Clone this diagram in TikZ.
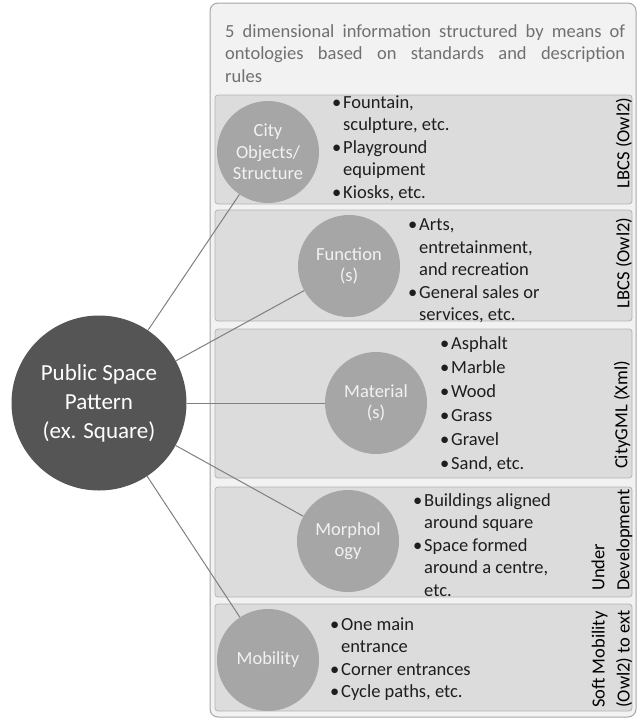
\documentclass[tikz,border=0pt]{standalone}
\usepackage{fontspec}
\setmainfont{Carlito}
\usepackage{tikz}

\definecolor{outerfill}{HTML}{F2F2F2}
\definecolor{outerline}{HTML}{A6A6A6}
\definecolor{rowfill}{HTML}{DCDCDC}
\definecolor{rowline}{HTML}{B4B4B4}
\definecolor{dimfill}{HTML}{A6A6A6}
\definecolor{pubfill}{HTML}{555555}
\definecolor{linkgray}{HTML}{7F7F7F}
\definecolor{headtext}{HTML}{707070}
\definecolor{listtext}{HTML}{1E1E1E}
\definecolor{dimtext}{HTML}{F2F2F2}

\newcommand{\blt}{\makebox[11pt][l]{\textbullet}}
\newcommand{\ind}{\hspace*{11pt}}

\begin{document}
\begin{tikzpicture}[x=1pt,y=-1pt,
	outerbox/.style={draw=outerline, fill=outerfill, rounded corners=8pt, line width=1pt},
	rowbox/.style={draw=rowline, fill=rowfill, rounded corners=3pt, line width=0.8pt},
	dim/.style={circle, fill=dimfill, text=dimtext, minimum size=102pt, inner sep=0pt, align=center,
		font=\fontsize{18.5}{21.5}\selectfont},
	list/.style={anchor=west, align=left, inner sep=0pt, text=listtext,
		font=\fontsize{18.5}{22.5}\selectfont},
	std/.style={rotate=90, align=left, inner sep=0pt, text=black,
		font=\fontsize{18.5}{25}\selectfont},
	link/.style={draw=linkgray, line width=1pt}]
	\useasboundingbox (0,0) rectangle (637,720);

	%FRAME
	\draw[outerbox] (210,3) rectangle (636,717);
	\node[anchor=north west, inner sep=0pt, text width=400pt, align=justify, text=headtext,
		font=\fontsize{18.5}{22.5}\selectfont] (head) at (225,24)
		{5 dimensional information structured by means of\linebreak
		 ontologies based on standards and description\linebreak rules};

	%ROWS
	\draw[rowbox] (215,95) rectangle (632,204);		%city objects
	\draw[rowbox] (215,210) rectangle (632,321);	%function
	\draw[rowbox] (215,329) rectangle (632,478);	%material
	\draw[rowbox] (215,487) rectangle (632,597);	%morphology
	\draw[rowbox] (215,604) rectangle (632,711);	%mobility

	%CIRCLES
	\node[circle, fill=pubfill, text=white, minimum size=175pt, inner sep=0pt, align=center,
		font=\fontsize{23}{29}\selectfont] (pub) at (99,403) {Public Space\\Pattern\\(ex. Square)};
	\node[dim] (city) at (268,152) {City\\Objects/\\Structure};
	\node[dim] (func) at (349,266) {Function\\(s)};
	\node[dim] (mat) at (376,403) {Material\\(s)};
	\node[dim] (morph) at (348,541) {Morphol\\ogy};
	\node[dim] (mob) at (268,660) {Mobility};

	%LINKS
	\foreach \d in {city,func,mat,morph,mob}{
		\draw[link] (pub) -- (\d);
	}

	%LISTS
	\node[list] (lcity) at (332,148) {\blt Fountain,\\\ind sculpture, etc.\\\blt Playground\\\ind equipment\\\blt Kiosks, etc.};
	\node[list] (lfunc) at (408,271) {\blt Arts,\\\ind entretainment,\\\ind and recreation\\\blt General sales or\\\ind services, etc.};
	\node[list, font=\fontsize{18.5}{24}\selectfont] (lmat) at (440,404) {\blt Asphalt\\\blt Marble\\\blt Wood\\\blt Grass\\\blt Gravel\\\blt Sand, etc.};
	\node[list] (lmorph) at (413,545) {\blt Buildings aligned\\\ind around square\\\blt Space formed\\\ind around a centre,\\\ind etc.};
	\node[list] (lmob) at (330,659) {\blt One main\\\ind entrance\\\blt Corner entrances\\\blt Cycle paths, etc.};

	%STANDARDS
	\node[std] (scity) at (624,143) {LBCS (Owl2)};
	\node[std] (sfunc) at (624,263) {LBCS (Owl2)};
	\node[std] (smat) at (622,415) {CityGML (Xml)};
	\node[std] (smorph) at (612,540) {Under\\Development};
	\node[std] (smob) at (612,659) {Soft Mobility\\(Owl2) to ext};
\end{tikzpicture}
\end{document}
